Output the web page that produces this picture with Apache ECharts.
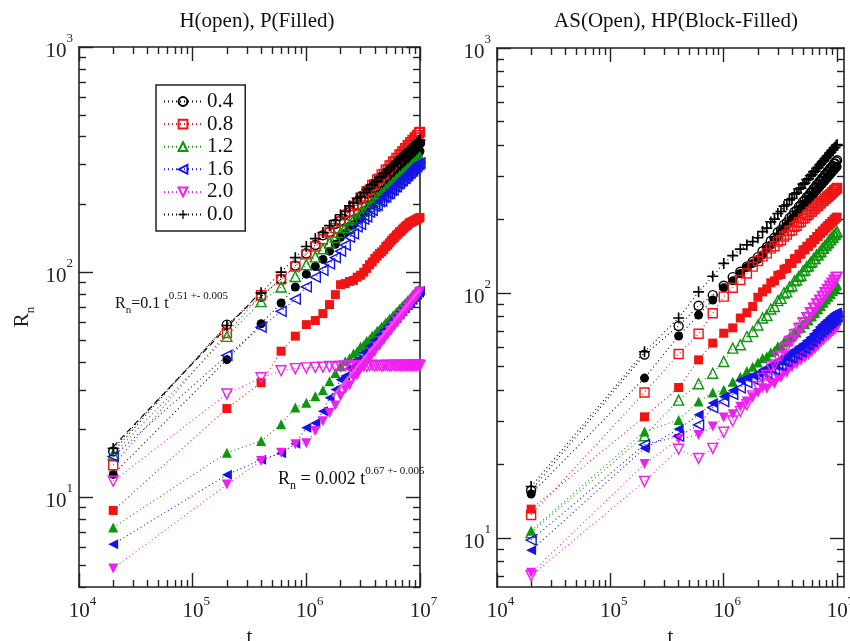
<!DOCTYPE html>
<html><head><meta charset="utf-8">
<script src="https://cdn.jsdelivr.net/npm/echarts/dist/echarts.min.js"></script>
<style>html,body{margin:0;padding:0;background:#fff}#c{width:850px;height:641px}</style>
</head><body><div id="c"></div>
<script>
// ---------- data ----------
const tValues = [2e4, 2e5, 4e5, 6e5, 8e5, 1e6, 1.2e6, 1.4e6, 1.6e6, 1.8e6, 2e6, 2.2e6, 2.4e6, 2.6e6, 2.8e6, 3e6, 3.2e6, 3.4e6, 3.6e6, 3.8e6, 4e6, 4.2e6, 4.4e6, 4.6e6, 4.8e6, 5e6, 5.2e6, 5.4e6, 5.6e6, 5.8e6, 6e6, 6.2e6, 6.4e6, 6.6e6, 6.8e6, 7e6, 7.2e6, 7.4e6, 7.6e6, 7.8e6, 8e6, 8.2e6, 8.4e6, 8.6e6, 8.8e6, 9e6, 9.2e6, 9.4e6, 9.6e6, 9.8e6, 1e7];

// Left panel: H(open) = open symbols, P(Filled) = filled symbols
const L_plus00 = [16.5, 58, 81, 100, 116, 130, 141, 150, 161, 170, 180,186,197,203,213,216,226,233,236,245,252,254,263,265,274,277,285,286,295,296,304,309,310,318,319,327,328,336,337,344,345,353,352,361,362,368,369,376,377,383,386];
const L_open04 = [16, 58.5, 78, 93, 107, 121, 132,146,151,164,169,181,185,196,199,210,213,223,226,236,238,247,249,259,260,269,270,279,280,289,290,299,299,308,308,317,317,325,326,334,334,342,342,350,350,358,358,365,365,373,374];
const L_fill04 = [12.65, 40.9, 59, 73, 86, 98, 106, 114, 124, 133, 143,149,160,163,174,176,187,189,199,201,210,212,222,223,232,233,243,244,252,253,262,262,271,272,281,280,289,290,299,298,306,306,314,315,323,322,330,331,338,338,345];
const L_open08 = [13.9, 53.7, 79, 93, 106, 120, 130, 140, 150, 157, 168,179,185,197,201,214,217,229,232,244,246,258,260,272,273,285,286,298,298,310,310,322,321,333,333,344,344,355,355,366,366,377,376,387,386,397,396,406,406,416,419];
const L_fill08 = [8.75, 24.8, 32.3, 44.6, 52, 58.5, 61, 65.5, 71.8, 79.5, 88, 89, 91, 92, 95, 97, 100, 104, 108, 111, 115, 118, 121, 123, 126, 130, 132, 135, 138, 141, 143, 146, 148, 151, 152, 155, 157, 159, 161, 162, 165, 166, 167, 168, 169, 170, 171, 172, 173, 174, 175];
const L_open12 = [15.5, 51.9, 74, 86, 95.7, 108, 117, 127, 135, 143, 150,158,162,171,174,183,186,194,196,205,206,215,216,224,225,233,234,242,242,250,250,258,258,266,265,273,273,280,280,287,287,294,293,301,300,307,307,314,313,320,323];
const L_fill12 = [7.35, 15.8, 17.8, 21.1, 25.1, 26.3, 28.1, 29.9, 32.8, 35.7, 38.2,40.2,41.5,43.6,44.6,46.8,47.5,49.6,50.3,52.3,52.9,54.9,55.5,57.4,57.9,59.9,60.3,62.2,62.6,64.4,64.8,66.6,67.0,68.8,69.1,70.9,71.2,73.0,73.2,75.0,75.2,77.0,77.2,78.9,79.1,80.8,81.0,82.6,82.8,84.0,84.2];
const L_open16 = [15.2, 42.7, 57, 67, 76, 86, 95, 102, 109, 116, 124,132,143,148,159,163,172,176,185,188,196,198,206,207,215,216,223,224,231,232,239,240,247,248,254,255,261,262,268,269,275,276,281,282,288,289,294,295,301,302,306];
const L_fill16 = [6.2, 12.6, 14.7, 15.7, 17.3, 20.4, 21.4, 24.1, 27.7, 30.1, 33.3,34.6,37.4,38.1,40.9,41.3,44.0,44.4,47.0,47.3,49.9,50.0,52.6,52.7,55.2,55.3,57.7,57.8,60.2,60.2,62.6,62.5,64.9,64.8,67.1,67.0,69.3,69.2,71.4,71.3,73.5,73.3,75.5,75.3,77.5,77.3,79.5,79.2,81.4,81.1,82.7];
const L_open20 = [11.8, 28.8, 34, 36.5, 37.3, 37.6, 37.8, 37.9, 38.1, 37.9, 38.2, 38.3,38.1,38.4,38.2,38.5,38.3,38.2,38.4,38.6,38.3,38.4,38.5,38.2,38.4,38.6,38.5,38.3,38.4,38.6,38.5,38.4,38.6,38.5,38.3,38.5,38.6,38.4,38.5,38.6,38.5,38.4,38.6,38.5,38.6,38.5,38.6,38.5,38.6,38.6,38.5];
const L_fill20 = [4.83, 11.4, 14.5, 15.8, 17.2, 17.4, 19.7, 21.8, 23.7, 25.6, 28.1, 30.2,31.4,33.9,34.8,37.2,38.0,40.5,41.1,43.6,44.2,46.5,47.0,49.4,49.9,52.2,52.6,54.9,55.3,57.6,57.9,60.2,60.4,62.7,62.9,65.2,65.4,67.6,67.8,70.0,70.2,72.4,72.5,74.7,74.8,77.0,77.1,79.2,79.3,81.4,82.0];

// Right panel: AS(Open) = open symbols, HP(Block-Filled) = filled symbols
const R_plus00 = [16.2, 57.5, 79, 101, 117, 132, 142, 151, 157, 162, 168,178,184,195,200,211,215,226,229,240,243,253,256,266,268,278,281,290,292,301,304,312,314,323,325,333,336,343,346,353,356,363,365,372,375,382,384,391,393,400,403];
const R_open04 = [15.6, 56, 73.3, 88.6, 98, 107, 116, 122, 128, 134, 140,148,154,163,168,177,181,190,194,202,206,214,217,225,228,236,239,246,249,256,259,266,269,276,278,285,287,294,296,303,305,312,313,320,322,328,330,337,338,344,348];
const R_fill04 = [15.1, 44.9, 66.7, 81.3, 93.6, 105, 112, 120, 127, 132, 137,143,152,157,165,170,178,182,189,193,201,204,211,214,222,224,231,234,241,243,250,252,259,261,267,270,276,278,284,286,292,294,300,302,307,309,315,317,322,324,328];
const R_open08 = [12.4, 39.2, 56.3, 68.1, 82.6, 96.6, 105, 113, 120, 128, 135,141,145,152,155,162,164,170,173,179,180,186,188,194,195,201,202,207,209,214,215,220,221,226,227,232,232,237,238,242,243,247,248,252,253,257,258,262,263,266,268];
const R_fill08 = [13.1, 31.2, 41.1, 53.3, 62.4, 68.5, 72, 79, 83, 88, 96,101,104,110,112,118,119,125,126,132,132,138,138,144,144,150,150,155,155,160,160,165,165,170,170,175,175,179,179,184,184,188,188,192,192,196,196,200,200,203,204];
const R_open12 = [10.5, 26.1, 36.5, 42.6, 47, 52.5, 59.5, 61.4, 66.4, 69.5, 74,79,81,86,88,93,95,100,101,106,107,112,113,117,118,123,124,128,129,133,134,138,138,143,143,147,148,152,152,156,157,160,161,165,165,169,169,173,173,176,178];
const R_fill12 = [10.7, 27.2, 30.3, 36, 39.2, 40.2, 43.4, 45.5, 48, 50, 52,54.2,55.1,57.3,58.0,60.6,61.0,63.2,63.5,66.1,66.4,69.2,69.0,71.8,72.0,74.7,74.6,77.2,77.4,80.1,80.4,82.7,83.0,85.6,85.9,88.6,88.5,91.1,91.4,94.0,94.3,96.7,96.5,99.1,99.0,101.6,101.9,104.6,104.4,107.1,108];
const R_open16 = [9.8, 24, 26, 28.9, 34, 36, 38.5, 41, 43, 44.5, 46,47.5,47.2,49.1,48.7,50.8,50.6,52.7,52.4,54.6,54.4,56.5,56.0,58.1,57.6,59.7,59.4,61.7,61.4,63.6,63.4,65.7,65.4,67.6,67.4,69.6,69.2,71.3,70.8,72.9,72.4,74.5,74.0,76.1,75.6,77.7,77.0,78.9,78.2,80.1,80];
const R_fill16 = [8.9, 23.2, 27.8, 31.8, 35.5, 37.8, 40, 44, 45, 46, 47,48.6,48.7,50.8,50.6,52.9,52.6,54.8,54.5,56.9,56.6,58.5,58.0,60.3,59.7,61.9,61.5,63.8,63.4,65.8,65.5,67.9,67.8,70.3,70.2,72.6,72.2,74.3,73.8,76.0,75.4,77.6,77.0,79.2,78.6,80.7,80.1,82.0,81.3,83.1,83];
const R_open20 = [7.0, 17.0, 23, 21.1, 23.2, 27, 30, 32.8, 35, 38, 41.5,44.8,46.0,49.9,50.8,54.7,55.3,59.2,59.6,63.4,63.8,67.5,67.8,71.6,71.7,75.5,75.4,79.3,79.1,83.0,82.6,86.6,86.1,90.1,89.6,93.5,92.9,96.8,96.2,100.1,99.4,103.3,102.6,106.5,105.8,109.6,108.8,112.6,111.7,115.5,116];
const R_fill20 = [7.2, 20, 25.3, 26.3, 28.5, 31, 32, 34.3, 36, 37.5, 39,40.8,40.6,42.9,42.5,44.9,45.0,47.3,47.1,49.7,49.6,51.6,51.1,53.3,52.8,54.9,54.3,56.3,55.7,57.7,57.2,59.3,58.9,61.1,60.7,63.0,62.5,64.5,64.0,66.2,65.7,67.5,66.9,68.8,68.1,70.0,69.3,71.2,70.5,72.4,72];

// fitted lines (left panel)
const fitDashT = [2e4, 4e5];
const fitDashR = [16.8, 82];
const fitMagT = [1.7e6, 1e7];
const fitMagR = [28, 84];

const legendLabels = ['0.4', '0.8', '1.2', '1.6', '2.0', '0.0'];
const titles = ['H(open), P(Filled)', 'AS(Open), HP(Block-Filled)'];
const xMajorTicks = [1e4, 1e5, 1e6, 1e7];
const xMinorTicks = [2e4,3e4,4e4,5e4,6e4,7e4,8e4,9e4,2e5,3e5,4e5,5e5,6e5,7e5,8e5,9e5,2e6,3e6,4e6,5e6,6e6,7e6,8e6,9e6];
const yMajorTicks = [10, 100, 1000];
const yMinorTicks = [4,5,6,7,8,9,20,30,40,50,60,70,80,90,200,300,400,500,600,700,800,900];

// ---------- styling ----------
const FONT = "'Liberation Serif','DejaVu Serif',serif";
const INK = '#222';
const COL = {k:'#000000', r:'#f01414', g:'#0e960e', b:'#1414e6', m:'#f01ef0'};
const SYM = {
  circle:{symbol:'circle', size:9, rot:0},
  square:{symbol:'rect', size:9, rot:0},
  up:{symbol:'triangle', size:10, rot:0},
  left:{symbol:'triangle', size:10, rot:90},
  down:{symbol:'triangle', size:10, rot:180},
  plus:{symbol:'path://M5.1,0H6.9V5.1H12V6.9H6.9V12H5.1V6.9H0V5.1H5.1Z', size:11, rot:0}
};

function mk(name, panel, vals, color, shape, open) {
  const s = SYM[shape];
  return {
    name, type:'line', xAxisIndex: panel*4, yAxisIndex: panel*4,
    data: tValues.map((t,i)=>[t, vals[i]]),
    symbol: s.symbol, symbolSize: s.size, symbolRotate: s.rot, showSymbol:true,
    clip:false, animation:false, z:3,
    lineStyle:{color, width:1.1, type:[1,3]},
    itemStyle: open ? {color:'rgba(255,255,255,0)', borderColor:color, borderWidth:1.4} : {color, borderWidth:0},
    emphasis:{disabled:true}
  };
}

const supRichX = {
  b:{fontSize:21, fontFamily:FONT, color:INK, padding:[6,0,0,7]},
  s:{fontSize:13, fontFamily:FONT, color:INK, verticalAlign:'top'}
};
const supRichY = {
  b:{fontSize:21, fontFamily:FONT, color:INK, padding:[9,0,0,0]},
  s:{fontSize:13, fontFamily:FONT, color:INK, verticalAlign:'top'}
};
function supFmt(v){ return '{b|10}{s|' + Math.round(Math.log10(v)) + '}'; }

function makeAxes(dim, g, min, max, majors, minors, extra) {
  const pos = dim === 'x' ? ['bottom','top'] : ['left','right'];
  const axes = [];
  pos.forEach((p, k) => {
    [true, false].forEach(major => {
      const ax = {
        type:'log', logBase:10, gridIndex:g, min, max, position:p,
        axisLine:{show:major, onZero:false, lineStyle:{color:INK, width:1.6}},
        axisTick:{show:true, inside:true, length: major ? 14 : 7, customValues: major ? majors : minors, lineStyle:{color:INK, width:1.4}},
        axisLabel:{show:false},
        splitLine:{show:false}, minorTick:{show:false}, minorSplitLine:{show:false},
        axisPointer:{show:false}
      };
      if (major && k === 0) {
        ax.axisLabel = dim === 'x'
          ? {show:true, customValues:majors, formatter:supFmt, rich:supRichX, margin:8, hideOverlap:false}
          : {show:true, customValues:majors, formatter:supFmt, rich:supRichY, margin:6};
        Object.assign(ax, extra || {});
      }
      axes.push(ax);
    });
  });
  return axes;
}

const xName = {name:'t', nameLocation:'middle', nameGap:34, nameTextStyle:{fontFamily:FONT, fontSize:21, color:INK}};
const yName = {name:'{r|R}{n|n}', nameLocation:'middle', nameGap:42, nameRotate:90,
  nameTextStyle:{rich:{
    r:{fontFamily:FONT, fontSize:21, color:INK, padding:[0,0,4,0], verticalAlign:'bottom'},
    n:{fontFamily:FONT, fontSize:13, color:INK, verticalAlign:'bottom'}
  }}};

const xAxes = [].concat(
  makeAxes('x', 0, 1e4, 1e7, xMajorTicks, xMinorTicks, xName),
  makeAxes('x', 1, 1e4, 1.15e7, xMajorTicks, xMinorTicks, xName)
);
const yAxes = [].concat(
  makeAxes('y', 0, 4, 1000, yMajorTicks, yMinorTicks, yName),
  makeAxes('y', 1, 6.3, 1000, yMajorTicks, yMinorTicks, null)
);

const series = [
  // left panel, filled (P)
  mk('P 0.4', 0, L_fill04, COL.k, 'circle', false),
  mk('P 0.8', 0, L_fill08, COL.r, 'square', false),
  mk('P 1.2', 0, L_fill12, COL.g, 'up', false),
  mk('P 1.6', 0, L_fill16, COL.b, 'left', false),
  mk('P 2.0', 0, L_fill20, COL.m, 'down', false),
  // left panel, open (H)
  mk('0.4', 0, L_open04, COL.k, 'circle', true),
  mk('0.8', 0, L_open08, COL.r, 'square', true),
  mk('1.2', 0, L_open12, COL.g, 'up', true),
  mk('1.6', 0, L_open16, COL.b, 'left', true),
  mk('2.0', 0, L_open20, COL.m, 'down', true),
  mk('0.0', 0, L_plus00, COL.k, 'plus', false),
  // right panel
  mk('HP 0.4', 1, R_fill04, COL.k, 'circle', false),
  mk('HP 0.8', 1, R_fill08, COL.r, 'square', false),
  mk('HP 1.2', 1, R_fill12, COL.g, 'up', false),
  mk('HP 1.6', 1, R_fill16, COL.b, 'left', false),
  mk('HP 2.0', 1, R_fill20, COL.m, 'down', false),
  mk('AS 0.4', 1, R_open04, COL.k, 'circle', true),
  mk('AS 0.8', 1, R_open08, COL.r, 'square', true),
  mk('AS 1.2', 1, R_open12, COL.g, 'up', true),
  mk('AS 1.6', 1, R_open16, COL.b, 'left', true),
  mk('AS 2.0', 1, R_open20, COL.m, 'down', true),
  mk('AS 0.0', 1, R_plus00, COL.k, 'plus', false),
  // fits
  {name:'fit1', type:'line', xAxisIndex:0, yAxisIndex:0, data: fitDashT.map((t,i)=>[t, fitDashR[i]]),
    symbol:'none', lineStyle:{color:'#111', width:1.2, type:[6,4]}, z:4, animation:false, emphasis:{disabled:true}},
  {name:'fit2', type:'line', xAxisIndex:0, yAxisIndex:0, data: fitMagT.map((t,i)=>[t, fitMagR[i]]),
    symbol:'none', lineStyle:{color:'#f050f0', width:2.5}, z:4, animation:false, emphasis:{disabled:true}}
];

const annRich1 = {
  r:{fontFamily:FONT, fontSize:16, fill:'#111', color:'#111', padding:[0,0,4,0], verticalAlign:'bottom'},
  n:{fontFamily:FONT, fontSize:11, fill:'#111', color:'#111', verticalAlign:'bottom'},
  m:{fontFamily:FONT, fontSize:16, fill:'#111', color:'#111', padding:[0,0,4,0], verticalAlign:'bottom'},
  s:{fontFamily:FONT, fontSize:11, fill:'#111', color:'#111', padding:[0,0,14,0], verticalAlign:'bottom'}
};
const annRich2 = {
  r:{fontFamily:FONT, fontSize:18, fill:'#111', color:'#111', padding:[0,0,4,0], verticalAlign:'bottom'},
  n:{fontFamily:FONT, fontSize:12, fill:'#111', color:'#111', verticalAlign:'bottom'},
  m:{fontFamily:FONT, fontSize:18, fill:'#111', color:'#111', padding:[0,0,4,0], verticalAlign:'bottom'},
  s:{fontFamily:FONT, fontSize:11, fill:'#111', color:'#111', padding:[0,0,15,0], verticalAlign:'bottom'}
};

const option = {
  backgroundColor:'#fff',
  animation:false,
  title: [
    {text:titles[0], left:252, top:6, textAlign:'center', textStyle:{fontFamily:FONT, fontSize:21, fontWeight:'normal', color:'#111'}},
    {text:titles[1], left:671, top:6, textAlign:'center', textStyle:{fontFamily:FONT, fontSize:21, fontWeight:'normal', color:'#111'}}
  ],
  grid: [
    {left:79, top:47, width:341, height:540, containLabel:false, outerBoundsMode:'none'},
    {left:497, top:48, width:347, height:539, containLabel:false, outerBoundsMode:'none'}
  ],
  legend: {
    data: legendLabels, orient:'vertical', left:156, top:85,
    itemWidth:38, itemHeight:11, itemGap:1.6, padding:[6,12,6,7],
    borderColor:INK, borderWidth:1.5, borderRadius:0, backgroundColor:'#fff',
    textStyle:{fontFamily:FONT, fontSize:21, color:'#111', lineHeight:21},
    selectedMode:false
  },
  xAxis: xAxes,
  yAxis: yAxes,
  series,
  graphic: [
    {type:'text', x:115, y:291, silent:true,
      style:{text:'{r|R}{n|n}{m|=0.1 t}{s|0.51 +- 0.005}', rich:annRich1, fill:'#111', align:'left', verticalAlign:'top'}},
    {type:'text', x:278, y:466, silent:true,
      style:{text:'{r|R}{n|n}{m| = 0.002 t}{s|0.67 +- 0.005}', rich:annRich2, fill:'#111', align:'left', verticalAlign:'top'}}
  ]
};

const chart = echarts.init(document.getElementById('c'), null, {renderer:'canvas', width:850, height:641});
chart.setOption(option);
</script>
</body></html>
